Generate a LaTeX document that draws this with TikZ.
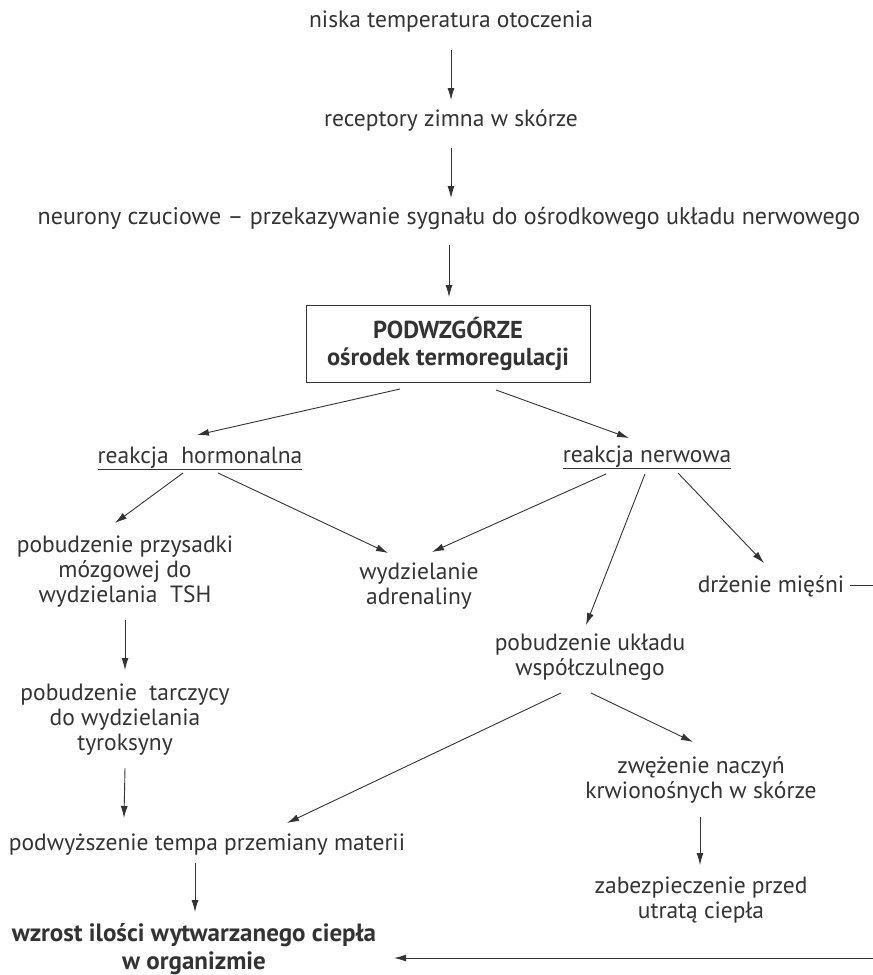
\documentclass[tikz,border=0pt]{standalone}
\usepackage{fontspec}
\setmainfont{PT Sans}
\usetikzlibrary{arrows.meta,calc}
\definecolor{ink}{HTML}{333333}
\begin{document}
\begin{tikzpicture}[x=1pt,y=-1pt,
  txt/.style={inner sep=0pt, outer sep=0pt, align=center, text=ink, font=\fontsize{23.5}{25}\selectfont},
  btxt/.style={txt, font=\fontsize{25}{28}\selectfont\bfseries},
  hbox/.style={txt, font=\fontsize{24.5}{27}\selectfont\bfseries, draw=ink, line width=0.9pt, minimum width=284pt, minimum height=77pt},
  arr/.style={draw=ink, line width=0.9pt, -{Latex[length=12pt,width=7pt]}},
  ln/.style={draw=ink, line width=0.9pt}]
\useasboundingbox[fill=white] (0,0) rectangle (873,975);

\node[txt] (n1) at (451,22) {niska temperatura otoczenia};
\node[txt] (n2) at (451,120) {receptory zimna w skórze};
\node[txt, font=\fontsize{24}{25}\selectfont] (n3) at (449,218) {neurony czuciowe -- przekazywanie sygnału do ośrodkowego układu nerwowego};
\node[hbox] (box) at (448,343.5) {PODWZGÓRZE\\ośrodek termoregulacji};
\node[txt, anchor=base] (horm) at (200,463) {\underline{reakcja\ \ hormonalna}};
\node[txt, anchor=base] (nerw) at (647,462) {\underline{reakcja nerwowa}};
\node[txt] (prz) at (125,572) {pobudzenie przysadki\\mózgowej do\\wydzielania\ \ TSH};
\node[txt] (adr) at (419,586.5) {wydzielanie\\adrenaliny};
\node[txt, anchor=base] (drz) at (771,592) {drżenie mięśni};
\node[txt] (ukl) at (590,657.5) {pobudzenie układu\\współczulnego};
\node[txt] (tar) at (125,720) {pobudzenie\ \ tarczycy\\do wydzielania\\tyroksyny};
\node[txt, anchor=base] (pod) at (207,850) {podwyższenie tempa przemiany materii};
\node[txt] (zwe) at (701,780) {zwężenie naczyń\\krwionośnych w skórze};
\node[txt] (zab) at (701,900) {zabezpieczenie przed\\utratą ciepła};
\node[btxt] (wzr) at (194,949) {wzrost ilości wytwarzanego ciepła\\w organizmie};

\coordinate (edgeR) at (873,958);

\draw[arr] ($(n1)+(0,28)$) -- ($(n2)+(0,-20)$);
\draw[arr] ($(n2)+(0,28)$) -- ($(n3)+(2,-20)$);
\draw[arr] ($(n3)+(0,27)$) -- ($(box.north)+(1,-8)$);
\draw[arr] ($(box.south)+(-48,7)$) -- ($(horm.base)+(-3,-28)$);
\draw[arr] ($(box.south)+(48,8)$) -- ($(nerw.base)+(-18,-24)$);
\draw[arr] ($(horm.base)+(-17,10)$) -- ($(prz)+(-10,-49)$);
\draw[arr] ($(horm.base)+(18,10)$) -- ($(adr)+(-31,-33.5)$);
\draw[arr] ($(nerw.base)+(-41,12)$) -- ($(adr)+(13,-34.5)$);
\draw[arr] ($(nerw.base)+(-2,12)$) -- ($(ukl)+(-4,-32.5)$);
\draw[arr] ($(nerw.base)+(31,11)$) -- ($(drz.base)+(-7,-29)$);
\draw[ln] ($(drz.base)+(79,-7)$) -- ($(drz.base)+(102,-7)$);
\draw[arr] ($(prz)+(0,48)$) -- ($(tar)+(0,-50)$);
\draw[arr] ($(tar)+(0,48)$) -- ($(pod.base)+(-83,-32)$);
\draw[arr] ($(ukl)+(-29,35.5)$) -- ($(pod.base)+(80,-27)$);
\draw[arr] ($(ukl)+(1,35.5)$) -- ($(zwe)+(-8,-38)$);
\draw[arr] ($(zwe)+(-1,37)$) -- ($(zab)+(-1,-35)$);
\draw[arr] ($(pod.base)+(-12,13)$) -- ($(wzr)+(1,-37)$);
\draw[arr] (edgeR) -- ($(edgeR -| wzr.east)+(18,0)$);
\end{tikzpicture}
\end{document}
